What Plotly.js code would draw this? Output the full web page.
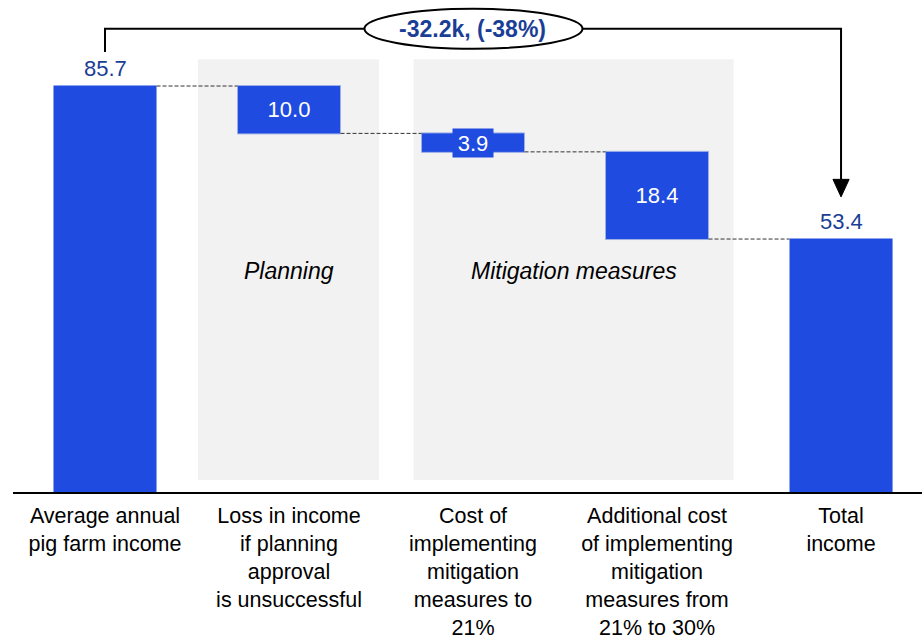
<!DOCTYPE html>
<html><head><meta charset="utf-8">
<script src="https://cdn.plot.ly/plotly-3.0.1.min.js"></script>
<style>html,body{margin:0;padding:0;background:#fff}</style>
</head><body><div id="chart" style="width:922px;height:643px"></div>
<script>
const categories = [
  "Average annual<br>pig farm income",
  "Loss in income<br>if planning<br>approval<br>is unsuccessful",
  "Cost of<br>implementing<br>mitigation<br>measures to<br>21%",
  "Additional cost<br>of implementing<br>mitigation<br>measures from<br>21% to 30%",
  "Total<br>income"
];
const measures = ["absolute", "relative", "relative", "relative", "total"];
const values = [85.7, -10.0, -3.9, -18.4, 53.4];
const valueLabels = ["85.7", "10.0", "3.9", "18.4", "53.4"];
const groupLabels = ["Planning", "Mitigation measures"];
const changeLabel = "-32.2k, (-38%)";

const BLUE = "#1F4BE0";
const DARKBLUE = "#1A3E96";
const FONT = "Liberation Sans, Arial, sans-serif";

// running totals, used to place the value labels
const ends = [];
let run = 0;
values.forEach((v, i) => {
  if (measures[i] === "absolute") run = v;
  else if (measures[i] === "relative") run += v;
  ends.push(run);
});
const smallIdx = 2;
const smallMid = ends[smallIdx - 1] + values[smallIdx] / 2;

const trace = {
  type: "waterfall",
  x: categories,
  y: values,
  measure: measures,
  text: valueLabels,
  textposition: ["none", "inside", "none", "inside", "none"],
  insidetextanchor: "middle",
  insidetextfont: {color: "#ffffff", size: 22, family: FONT},
  constraintext: "none",
  cliponaxis: false,
  width: 0.56,
  increasing: {marker: {color: BLUE, line: {color: "#9fb0e6", width: 1}}},
  decreasing: {marker: {color: BLUE, line: {color: "#9fb0e6", width: 1}}},
  totals: {marker: {color: BLUE, line: {color: BLUE, width: 0}}},
  connector: {mode: "between", line: {color: "#333333", width: 1, dash: "4px,2px"}},
  hoverinfo: "skip"
};

const outsideIdx = [0, 4];
const outsideAnns = outsideIdx.map(i => ({
  x: i, y: ends[i], xref: "x", yref: "y", text: valueLabels[i], showarrow: false,
  yanchor: "bottom", yshift: 3, font: {color: DARKBLUE, size: 22, family: FONT}
}));

const layout = {
  width: 922, height: 643,
  margin: {l: 13, r: 0, t: 0, b: 151},
  paper_bgcolor: "#ffffff", plot_bgcolor: "#ffffff",
  font: {family: FONT, color: "#000000"},
  showlegend: false,
  xaxis: {
    type: "category", range: [-0.5, 4.44],
    showline: true, linecolor: "#000000", linewidth: 2,
    ticks: "", showgrid: false, zeroline: false,
    ticklabelstandoff: 3,
    tickfont: {size: 21.5, color: "#000000", family: FONT},
    fixedrange: true
  },
  yaxis: {range: [0, 103.86], visible: false, showgrid: false, zeroline: false, fixedrange: true},
  shapes: [
    {type: "rect", xref: "x", yref: "y", x0: 0.505, x1: 1.489, y0: 2.53, y1: 91.35, fillcolor: "#F2F2F2", line: {width: 0}, layer: "below"},
    {type: "rect", xref: "x", yref: "y", x0: 1.677, x1: 3.416, y0: 2.53, y1: 91.35, fillcolor: "#F2F2F2", line: {width: 0}, layer: "below"},
    {type: "path", xref: "x", yref: "y", path: "M 0 92.9 L 0 97.8 L 4 97.8 L 4 66.0", line: {color: "#000000", width: 2}},
    {type: "path", xref: "x", yref: "y", path: "M 3.956 66.0 L 4.044 66.0 L 4 62.3 Z", fillcolor: "#000000", line: {color: "#000000", width: 1}},
    {type: "circle", xref: "x", yref: "y", x0: 1.41, x1: 2.595, y0: 93.55, y1: 102.0, fillcolor: "#ffffff", line: {color: "#000000", width: 2}}
  ],
  annotations: outsideAnns.concat([
    {x: smallIdx, y: smallMid, xref: "x", yref: "y", text: valueLabels[smallIdx], showarrow: false,
     bgcolor: BLUE, borderpad: 1, width: 38, height: 26, font: {color: "#ffffff", size: 22, family: FONT}},
    {x: 1.0, y: 46.65, xref: "x", yref: "y", text: "<i>" + groupLabels[0] + "</i>", showarrow: false,
     font: {size: 23, color: "#000000", family: FONT}},
    {x: 2.549, y: 46.65, xref: "x", yref: "y", text: "<i>" + groupLabels[1] + "</i>", showarrow: false,
     font: {size: 23, color: "#000000", family: FONT}},
    {x: 1.998, y: 97.75, xref: "x", yref: "y", text: "<b>" + changeLabel + "</b>", showarrow: false,
     font: {size: 23, color: DARKBLUE, family: FONT}}
  ])
};

Plotly.newPlot("chart", [trace], layout, {displayModeBar: false, staticPlot: true});
</script></body></html>
